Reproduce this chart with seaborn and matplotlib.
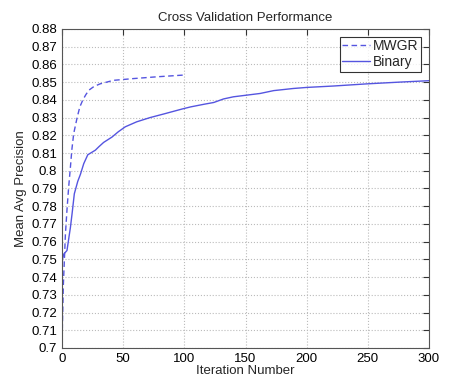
import numpy as np
import pandas as pd
import matplotlib
matplotlib.use('Agg')
import matplotlib.pyplot as plt
import seaborn as sns

# Nilai
mwgr_iter = [0, 0.5, 1, 2, 2.7, 4, 5.4, 6.8, 8, 9.5, 12.3, 14.5, 17, 19.5, 22, 26, 31, 42, 58.5, 77.6, 100]
mwgr_map = [0.705, 0.720, 0.735, 0.752, 0.764, 0.778, 0.791, 0.802, 0.812, 0.821, 0.830, 0.836,
            0.840, 0.843, 0.8455, 0.8475, 0.849, 0.851, 0.852, 0.853, 0.854]

bin_iter = [0, 0.3, 1.4, 4, 5.5, 6.8, 8.2, 10, 12.8, 15, 17.7, 21, 27.2, 30, 34, 40.8, 46, 51.7, 61, 72,
            83, 98, 105, 116, 124, 132, 140, 162, 173, 189, 200, 222, 249, 276, 300]
bin_map = [0.745, 0.750, 0.753, 0.755, 0.762, 0.768, 0.776, 0.787, 0.794, 0.798, 0.804, 0.809, 0.8116,
           0.8135, 0.816, 0.819, 0.822, 0.8248, 0.8276, 0.830, 0.832, 0.8348, 0.836, 0.8375, 0.8385,
           0.8405, 0.8417, 0.8436, 0.8452, 0.8464, 0.847, 0.8478, 0.849, 0.850, 0.8508]

yticks = np.round(np.arange(0.70, 0.8801, 0.01), 2)

df = pd.concat([
    pd.DataFrame({'iter': mwgr_iter, 'map': mwgr_map, 'metode': 'MWGR'}),
    pd.DataFrame({'iter': bin_iter, 'map': bin_map, 'metode': 'Binary'}),
])

sns.set_style('white')
plt.rcParams['font.family'] = ['Liberation Sans', 'DejaVu Sans']

warna = '#5555e0'
fig = plt.figure(figsize=(4.74, 3.91), dpi=100)
ax = fig.add_axes([0.131, 0.110, 0.774, 0.816])

sns.lineplot(data=df, x='iter', y='map', hue='metode', style='metode',
             palette={'MWGR': warna, 'Binary': warna},
             dashes={'MWGR': (4, 2.5), 'Binary': ''},
             linewidth=1.0, ax=ax)

ax.set_xlim(0, 300)
ax.set_ylim(0.7, 0.88)
ax.set_xticks(np.arange(0, 301, 50))
ax.set_yticks(yticks)
ax.set_yticklabels(['%g' % v for v in yticks])
ax.tick_params(direction='in', length=4, labelsize=9.5, top=True, right=True,
               colors='#333333', labelcolor='black', width=0.8)
ax.grid(True, linestyle=':', color='#bbbbbb', linewidth=0.8)
for s in ax.spines.values():
    s.set_color('#555555')
    s.set_linewidth(0.8)

ax.set_title('Cross Validation Performance', fontsize=9.5)
ax.set_xlabel('Iteration Number', fontsize=9.5, labelpad=0)
ax.set_ylabel('Mean Avg Precision', fontsize=9.5, labelpad=3)

leg = ax.legend(loc='upper right', fontsize=10, frameon=True, fancybox=False,
                handlelength=2.0, borderpad=0.2, labelspacing=0.12, handletextpad=0.2,
                borderaxespad=0.55)
leg.get_frame().set_edgecolor('black')
leg.get_frame().set_linewidth(0.8)

fig.savefig('out.png', dpi=100)
